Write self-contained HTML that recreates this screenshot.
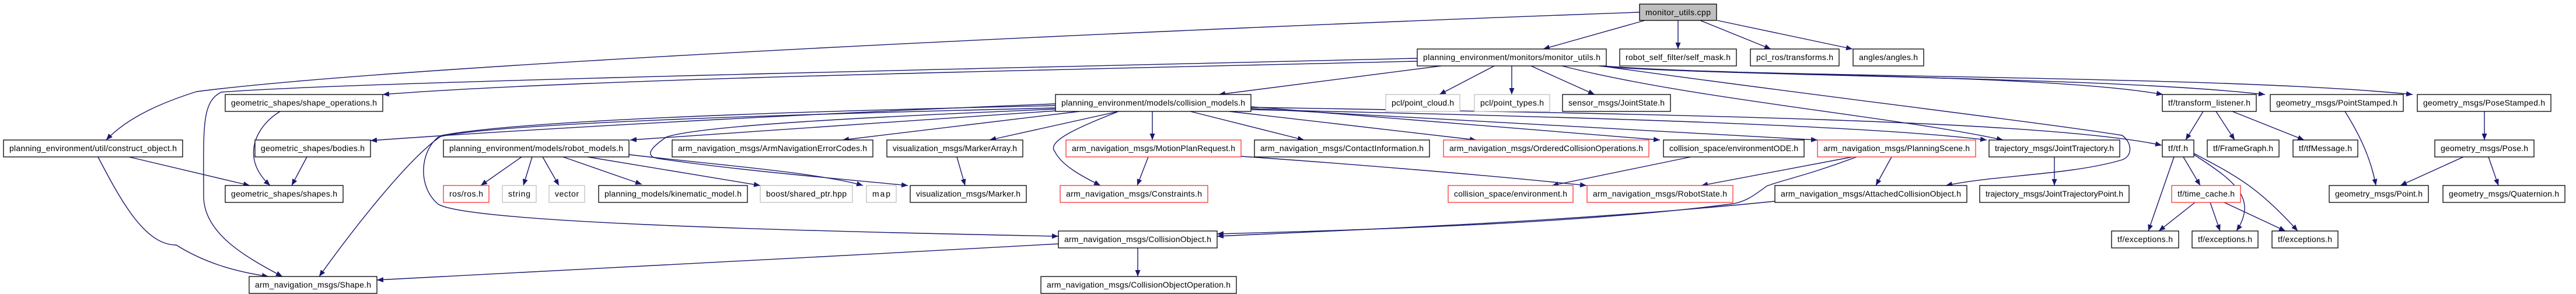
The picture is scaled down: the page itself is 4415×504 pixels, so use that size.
<!DOCTYPE html>
<html><head><meta charset="utf-8"><style>
html,body{margin:0;padding:0;background:#fff;}
svg{display:block;}
text{font-family:"Liberation Sans",sans-serif;font-size:14px;fill:#000;}
.e{fill:none;stroke:#191970;stroke-width:1.4;}
.n{fill:#fff;stroke:#000;stroke-width:1.3;}
.r{fill:#fff;stroke:#ff3030;stroke-width:1.3;}
.g{fill:#fff;stroke:#bfbfbf;stroke-width:1.3;}
</style></head><body>
<svg width="4415" height="504" viewBox="0 0 4415 504" xmlns="http://www.w3.org/2000/svg">
<defs><marker id="a" markerUnits="userSpaceOnUse" markerWidth="12" markerHeight="9" refX="11" refY="4.5" orient="auto"><path d="M0,0 L11,4.5 L0,9 z" fill="#191970"/></marker></defs>
<g class="e" marker-end="url(#a)">
<path d="M2819,35 L2645,84"/>
<path d="M2876,35 L2876,84"/>
<path d="M2914,35 L3035,84"/>
<path d="M2943,35 L3175,84"/>
<path d="M2810,21 C2000,50 700,110 337,157 C280,175 220,200 182,240"/>
<path d="M2429,100 C1800,115 600,140 379,158 C345,175 349,220 349,336 C349,400 420,440 484,474"/>
<path d="M2429,105 C1800,120 1000,135 656,162"/>
<path d="M2470,113 L2089,162"/>
<path d="M2561,113 L2467,162"/>
<path d="M2591,113 L2591,162"/>
<path d="M2624,113 L2733,162"/>
<path d="M2740,113 C2900,130 3500,125 3707,162"/>
<path d="M2745,113 C2950,132 3600,130 3882,162"/>
<path d="M2748,113 C3000,134 3800,128 4135,162"/>
<path d="M2751,114 C3000,150 3500,210 3637,232 C3655,245 3655,268 3637,274 C3550,300 3420,300 3335,318"/>
<path d="M2677,113 C2900,170 3250,200 3433,240"/>
<path d="M1809,178 C1500,190 1000,215 635,241"/>
<path d="M1809,190 L1080,240"/>
<path d="M1809,181 C1400,190 900,205 758,232 C700,270 600,400 547,474"/>
<path d="M1809,185 C1400,195 850,210 751,235 C720,260 715,320 751,350 C800,380 1300,395 1814,405"/>
<path d="M1809,187 C1500,200 1200,215 1142,235 C1120,250 1100,268 1130,272 C1250,290 1420,305 1556,318"/>
<path d="M1850,191 L1444,240"/>
<path d="M1917,191 L1696,240"/>
<path d="M1917,191 C1870,210 1790,240 1808,260 C1820,285 1860,305 1886,318"/>
<path d="M1975,191 L1975,240"/>
<path d="M2040,191 L2235,240"/>
<path d="M2107,191 L2530,240"/>
<path d="M2144,183 L2845,240"/>
<path d="M2144,186 L3115,240"/>
<path d="M2144,188 C2700,200 3200,215 3405,240"/>
<path d="M2144,184 C2800,195 3500,205 3705,249"/>
<path d="M894,269 L824,318"/>
<path d="M912,269 L897,318"/>
<path d="M930,269 L958,318"/>
<path d="M965,269 L1100,316"/>
<path d="M1007,269 L1303,318"/>
<path d="M1078,265 C1200,280 1400,295 1479,318"/>
<path d="M1640,269 L1654,318"/>
<path d="M1968,269 L1949,318"/>
<path d="M2127,268 C2300,280 2550,300 2719,318"/>
<path d="M2898,269 L2660,318"/>
<path d="M3175,269 L2916,318"/>
<path d="M3242,269 L3215,318"/>
<path d="M3182,269 C3100,300 3050,310 3028,319 C3000,340 2990,345 2972,349 C2700,385 2300,395 2086,401"/>
<path d="M3042,345 C2700,380 2300,395 2086,405"/>
<path d="M1950,424 L1950,474"/>
<path d="M1814,418 C1400,440 900,470 646,480"/>
<path d="M221,269 L428,318"/>
<path d="M168,269 C210,350 250,420 302,420 C350,450 400,465 460,474"/>
<path d="M480,191 C440,215 410,270 463,318"/>
<path d="M526,269 L500,318"/>
<path d="M3521,269 L3521,318"/>
<path d="M3776,191 L3746,240"/>
<path d="M3798,191 L3830,240"/>
<path d="M3826,191 L3949,240"/>
<path d="M4019,191 C4050,240 4065,280 4072,318"/>
<path d="M4258,191 L4258,240"/>
<path d="M4222,269 L4114,318"/>
<path d="M4265,269 L4282,318"/>
<path d="M3726,269 L3682,396"/>
<path d="M3742,269 L3771,318"/>
<path d="M3760,265 C3830,310 3870,340 3833,396"/>
<path d="M3760,263 C3830,300 3870,320 3938,396"/>
<path d="M3762,347 L3700,396"/>
<path d="M3788,347 L3805,396"/>
<path d="M3812,347 L3917,396"/>
</g>
<g>
<rect x="2810" y="7" width="132" height="28" fill="#bfbfbf" stroke="#000" stroke-width="1.3"/><text x="2820" y="26" textLength="112">monitor_utils.cpp</text>
<rect class="n" x="2429" y="84" width="324" height="29"/><text x="2439" y="103" textLength="304">planning_environment/monitors/monitor_utils.h</text>
<rect class="n" x="2776" y="84" width="200" height="29"/><text x="2786" y="103" textLength="180">robot_self_filter/self_mask.h</text>
<rect class="n" x="3000" y="84" width="152" height="29"/><text x="3010" y="103" textLength="132">pcl_ros/transforms.h</text>
<rect class="n" x="3176" y="84" width="121" height="29"/><text x="3186" y="103" textLength="101">angles/angles.h</text>
<rect class="n" x="386" y="162" width="270" height="29"/><text x="396" y="181" textLength="250">geometric_shapes/shape_operations.h</text>
<rect class="n" x="1809" y="162" width="335" height="29"/><text x="1819" y="181" textLength="315">planning_environment/models/collision_models.h</text>
<rect class="g" x="2375" y="162" width="127" height="29"/><text x="2385" y="181" textLength="107">pcl/point_cloud.h</text>
<rect class="g" x="2527" y="162" width="129" height="29"/><text x="2537" y="181" textLength="109">pcl/point_types.h</text>
<rect class="n" x="2678" y="162" width="185" height="29"/><text x="2688" y="181" textLength="165">sensor_msgs/JointState.h</text>
<rect class="n" x="3706" y="162" width="161" height="29"/><text x="3716" y="181" textLength="141">tf/transform_listener.h</text>
<rect class="n" x="3891" y="162" width="228" height="29"/><text x="3901" y="181" textLength="208">geometry_msgs/PointStamped.h</text>
<rect class="n" x="4143" y="162" width="229" height="29"/><text x="4153" y="181" textLength="209">geometry_msgs/PoseStamped.h</text>
<rect class="n" x="6" y="240" width="307" height="29"/><text x="16" y="259" textLength="287">planning_environment/util/construct_object.h</text>
<rect class="n" x="437" y="240" width="198" height="29"/><text x="447" y="259" textLength="178">geometric_shapes/bodies.h</text>
<rect class="n" x="760" y="240" width="318" height="29"/><text x="770" y="259" textLength="298">planning_environment/models/robot_models.h</text>
<rect class="n" x="1152" y="240" width="344" height="29"/><text x="1162" y="259" textLength="324">arm_navigation_msgs/ArmNavigationErrorCodes.h</text>
<rect class="n" x="1520" y="240" width="233" height="29"/><text x="1530" y="259" textLength="213">visualization_msgs/MarkerArray.h</text>
<rect class="r" x="1827" y="240" width="300" height="29"/><text x="1837" y="259" textLength="280">arm_navigation_msgs/MotionPlanRequest.h</text>
<rect class="n" x="2150" y="240" width="300" height="29"/><text x="2160" y="259" textLength="280">arm_navigation_msgs/ContactInformation.h</text>
<rect class="r" x="2474" y="240" width="352" height="29"/><text x="2484" y="259" textLength="332">arm_navigation_msgs/OrderedCollisionOperations.h</text>
<rect class="n" x="2851" y="240" width="241" height="29"/><text x="2861" y="259" textLength="221">collision_space/environmentODE.h</text>
<rect class="r" x="3115" y="240" width="271" height="29"/><text x="3125" y="259" textLength="251">arm_navigation_msgs/PlanningScene.h</text>
<rect class="n" x="3409" y="240" width="224" height="29"/><text x="3419" y="259" textLength="204">trajectory_msgs/JointTrajectory.h</text>
<rect class="n" x="3706" y="240" width="54" height="29"/><text x="3716" y="259" textLength="34">tf/tf.h</text>
<rect class="n" x="3783" y="240" width="123" height="29"/><text x="3793" y="259" textLength="103">tf/FrameGraph.h</text>
<rect class="n" x="3930" y="240" width="111" height="29"/><text x="3940" y="259" textLength="91">tf/tfMessage.h</text>
<rect class="n" x="4173" y="240" width="170" height="29"/><text x="4183" y="259" textLength="150">geometry_msgs/Pose.h</text>
<rect class="n" x="386" y="318" width="202" height="29"/><text x="396" y="337" textLength="182">geometric_shapes/shapes.h</text>
<rect class="r" x="760" y="318" width="78" height="29"/><text x="770" y="337" textLength="58">ros/ros.h</text>
<rect class="g" x="861" y="318" width="58" height="29"/><text x="871" y="337" textLength="38">string</text>
<rect class="g" x="941" y="318" width="61" height="29"/><text x="951" y="337" textLength="41">vector</text>
<rect class="n" x="1026" y="318" width="255" height="29"/><text x="1036" y="337" textLength="235">planning_models/kinematic_model.h</text>
<rect class="g" x="1303" y="318" width="158" height="29"/><text x="1313" y="337" textLength="138">boost/shared_ptr.hpp</text>
<rect class="g" x="1485" y="318" width="51" height="29"/><text x="1495" y="337" textLength="31">map</text>
<rect class="n" x="1560" y="318" width="199" height="29"/><text x="1570" y="337" textLength="179">visualization_msgs/Marker.h</text>
<rect class="r" x="1817" y="318" width="253" height="29"/><text x="1827" y="337" textLength="233">arm_navigation_msgs/Constraints.h</text>
<rect class="r" x="2482" y="318" width="214" height="29"/><text x="2492" y="337" textLength="194">collision_space/environment.h</text>
<rect class="r" x="2720" y="318" width="250" height="29"/><text x="2730" y="337" textLength="230">arm_navigation_msgs/RobotState.h</text>
<rect class="n" x="3042" y="318" width="329" height="29"/><text x="3052" y="337" textLength="309">arm_navigation_msgs/AttachedCollisionObject.h</text>
<rect class="n" x="3393" y="318" width="256" height="29"/><text x="3403" y="337" textLength="236">trajectory_msgs/JointTrajectoryPoint.h</text>
<rect class="r" x="3722" y="318" width="118" height="29"/><text x="3732" y="337" textLength="98">tf/time_cache.h</text>
<rect class="n" x="3992" y="318" width="170" height="29"/><text x="4002" y="337" textLength="150">geometry_msgs/Point.h</text>
<rect class="n" x="4187" y="318" width="209" height="29"/><text x="4197" y="337" textLength="189">geometry_msgs/Quaternion.h</text>
<rect class="n" x="1814" y="396" width="272" height="29"/><text x="1824" y="415" textLength="252">arm_navigation_msgs/CollisionObject.h</text>
<rect class="n" x="3619" y="396" width="115" height="29"/><text x="3629" y="415" textLength="95">tf/exceptions.h</text>
<rect class="n" x="3757" y="396" width="113" height="29"/><text x="3767" y="415" textLength="93">tf/exceptions.h</text>
<rect class="n" x="3894" y="396" width="113" height="29"/><text x="3904" y="415" textLength="93">tf/exceptions.h</text>
<rect class="n" x="427" y="474" width="219" height="29"/><text x="437" y="493" textLength="199">arm_navigation_msgs/Shape.h</text>
<rect class="n" x="1784" y="474" width="335" height="29"/><text x="1794" y="493" textLength="315">arm_navigation_msgs/CollisionObjectOperation.h</text>
</g>
</svg>
</body></html>
